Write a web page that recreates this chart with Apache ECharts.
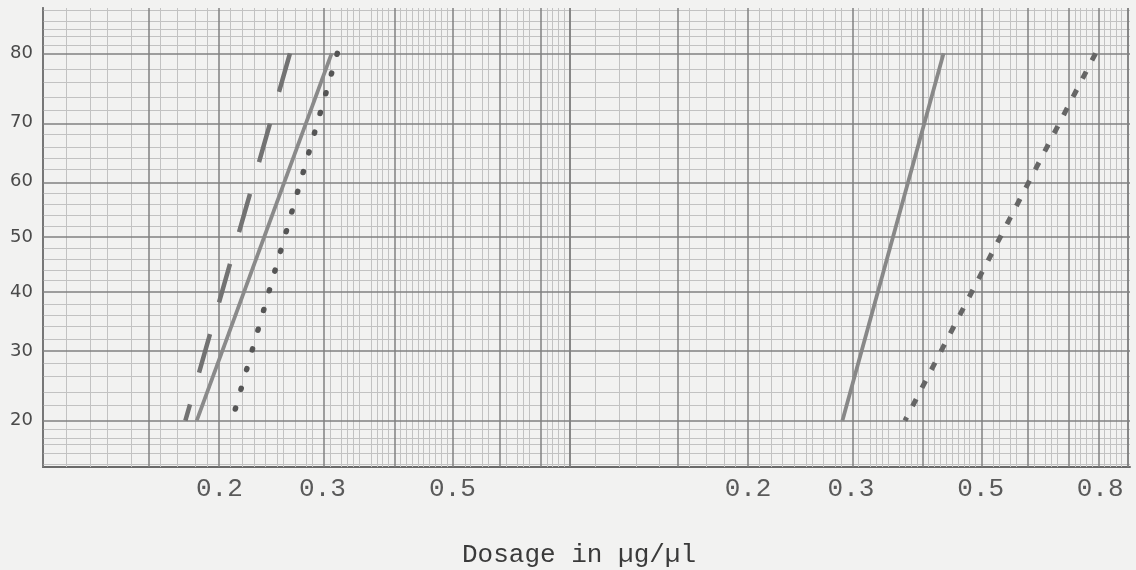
<!DOCTYPE html>
<html>
<head>
<meta charset="utf-8">
<title>Dosage in µg/µl</title>
<script src="https://cdn.jsdelivr.net/npm/echarts@6/dist/echarts.min.js"></script>
<style>
  html, body { margin: 0; padding: 0; background: #f2f2f1; }
  #chart { width: 1136px; height: 570px; }
</style>
</head>
<body>
<div id="chart"></div>
<script>
// Response (%) plotted against dose on log-probability paper, two log cycles side by side.

// Tick labels
const yTickPct = [20, 30, 40, 50, 60, 70, 80];
const leftTickDose = [0.2, 0.3, 0.5];
const rightTickDose = [0.2, 0.3, 0.5, 0.8];

// Paper extent
const yBottomPct = 14.6;
const yTopPct = 85.3;
const leftDoseRange = [0.1, 0.8];
const rightDoseRange = [0.1, 0.9];

// Paper rulings (log-cycle mantissas and percentages)
const paperMajorX = [1, 1.5, 2, 3, 4, 5, 6, 7, 8, 9];
const paperMinorX = [1.1, 1.2, 1.3, 1.4, 1.6, 1.7, 1.8, 1.9,
  2.1, 2.2, 2.3, 2.4, 2.5, 2.6, 2.7, 2.8, 2.9,
  3.1, 3.2, 3.3, 3.4, 3.5, 3.6, 3.7, 3.8, 3.9,
  4.1, 4.2, 4.3, 4.4, 4.5, 4.6, 4.7, 4.8, 4.9,
  5.2, 5.4, 5.6, 5.8, 6.2, 6.4, 6.6, 6.8,
  7.2, 7.4, 7.6, 7.8, 8.2, 8.4, 8.6, 8.8];
const paperMajorY = [20, 30, 40, 50, 60, 70, 80];
const paperMinorY = [15, 16, 17, 18, 19, 22, 24, 26, 28, 32, 34, 36, 38,
  42, 44, 46, 48, 52, 54, 56, 58, 62, 64, 66, 68, 72, 74, 76, 78, 81, 82, 83, 84, 85];

// Dose-response lines (dose in µg/µl, response in %), listed top end first
const leftDashedDose = [0.264, 0.175];
const leftDashedPct = [80, 20];
const leftSolidDose = [0.311, 0.183];
const leftSolidPct = [80, 20];
const leftDottedDose = [0.318, 0.212];
const leftDottedPct = [80, 21];
const rightSolidDose = [0.432, 0.290];
const rightSolidPct = [80, 20];
const rightDottedDose = [0.786, 0.371];
const rightDottedPct = [80, 20];

// Inverse normal CDF (Acklam) for the probability axis
function probit(p) {
  const a = [-3.969683028665376e+01, 2.209460984245205e+02, -2.759285104469687e+02,
             1.383577518672690e+02, -3.066479806614716e+01, 2.506628277459239e+00];
  const b = [-5.447609879822406e+01, 1.615858368580409e+02, -1.556989798598866e+02,
             6.680131188771972e+01, -1.328068155288572e+01];
  const c = [-7.784894002430293e-03, -3.223964580411365e-01, -2.400758277161838e+00,
             -2.549732539343734e+00, 4.374664141464968e+00, 2.938163982698783e+00];
  const d = [7.784695709041462e-03, 3.224671290700398e-01, 2.445134137142996e+00,
             3.754408661907416e+00];
  const pl = 0.02425;
  if (p < pl) {
    const q = Math.sqrt(-2 * Math.log(p));
    return (((((c[0]*q+c[1])*q+c[2])*q+c[3])*q+c[4])*q+c[5]) / ((((d[0]*q+d[1])*q+d[2])*q+d[3])*q+1);
  }
  if (p <= 1 - pl) {
    const q = p - 0.5, r = q * q;
    return (((((a[0]*r+a[1])*r+a[2])*r+a[3])*r+a[4])*r+a[5])*q / (((((b[0]*r+b[1])*r+b[2])*r+b[3])*r+b[4])*r+1);
  }
  const q = Math.sqrt(-2 * Math.log(1 - p));
  return -(((((c[0]*q+c[1])*q+c[2])*q+c[3])*q+c[4])*q+c[5]) / ((((d[0]*q+d[1])*q+d[2])*q+d[3])*q+1);
}
const py = pct => probit(pct / 100);
const lx = dose => Math.log10(dose);

const yMin = py(yBottomPct);
const yMax = py(yTopPct);

const majorStyle = { color: '#808080', width: 1.5, type: 'solid' };
const minorStyle = { color: '#c2c2c2', width: 1, type: 'solid' };

function paperLines(doseRange, withLeftEdge) {
  const inRange = m => m / 10 >= doseRange[0] - 1e-9 && m / 10 <= doseRange[1] + 1e-9;
  const items = [];
  paperMinorY.forEach(p => items.push({ yAxis: py(p), lineStyle: minorStyle }));
  paperMinorX.filter(inRange).forEach(m => items.push({ xAxis: lx(m / 10), lineStyle: minorStyle }));
  paperMajorY.forEach(p => items.push({ yAxis: py(p), lineStyle: majorStyle }));
  paperMajorX.filter(inRange)
    .filter(m => withLeftEdge || m / 10 > doseRange[0] + 1e-9)
    .forEach(m => items.push({ xAxis: lx(m / 10), lineStyle: majorStyle }));
  items.push({ xAxis: lx(doseRange[1]), lineStyle: majorStyle });
  items.push({ yAxis: yMax, lineStyle: { color: '#8c8c8c', width: 1.4, type: 'solid' } });
  return items;
}

function paperSeries(idx, doseRange, withLeftEdge) {
  return {
    type: 'line', xAxisIndex: idx, yAxisIndex: idx, data: [], z: 1, silent: true,
    markLine: {
      silent: true, symbol: 'none', animation: false,
      label: { show: false }, emphasis: { disabled: true },
      lineStyle: { type: 'solid' },
      data: paperLines(doseRange, withLeftEdge)
    }
  };
}

function doseLine(idx, doses, pcts, style) {
  return {
    type: 'line', xAxisIndex: idx, yAxisIndex: idx, z: 5,
    showSymbol: false, symbol: 'none', silent: true, animation: false,
    data: doses.map((dv, i) => [lx(dv), py(pcts[i])]),
    lineStyle: style
  };
}

function xAxisFor(idx, doseRange, ticks) {
  return {
    type: 'value', gridIndex: idx,
    min: lx(doseRange[0]), max: lx(doseRange[1]),
    axisLine: { show: true, onZero: false, lineStyle: { color: '#6a6a6a', width: 2 } },
    axisTick: { show: false },
    splitLine: { show: false },
    axisLabel: {
      customValues: ticks.map(lx),
      formatter: v => Math.pow(10, v).toFixed(1),
      fontFamily: 'Liberation Mono', fontSize: 26, color: '#5a5a5a', margin: 9
    }
  };
}

function yAxisFor(idx, visible) {
  return {
    type: 'value', gridIndex: idx, min: yMin, max: yMax,
    axisLine: { show: visible, onZero: false, lineStyle: { color: '#5c5c5c', width: 2 } },
    axisTick: { show: false },
    splitLine: { show: false },
    axisLabel: {
      show: visible,
      customValues: yTickPct.map(py),
      formatter: v => {
        const hit = yTickPct.find(p => Math.abs(py(p) - v) < 1e-7);
        return hit === undefined ? '' : String(hit);
      },
      fontFamily: 'DejaVu Sans', fontSize: 18, color: '#4a4a4a', margin: 10
    }
  };
}

const chart = echarts.init(document.getElementById('chart'), null, { renderer: 'canvas' });
chart.setOption({
  backgroundColor: '#f2f2f1',
  animation: false,
  title: {
    text: 'Dosage in µg/µl',
    left: 457, top: 537,
    textStyle: { fontFamily: 'Liberation Mono', fontSize: 26, fontWeight: 'normal', color: '#3a3a3a' }
  },
  grid: [
    { left: 43, top: 8, width: 529, height: 459 },
    { left: 572, top: 8, width: 558, height: 459 }
  ],
  xAxis: [xAxisFor(0, leftDoseRange, leftTickDose), xAxisFor(1, rightDoseRange, rightTickDose)],
  yAxis: [yAxisFor(0, true), yAxisFor(1, false)],
  series: [
    paperSeries(0, leftDoseRange, true),
    paperSeries(1, rightDoseRange, false),
    doseLine(0, leftDashedDose, leftDashedPct, { color: '#727272', width: 4.5, type: [40, 33] }),
    doseLine(0, leftSolidDose, leftSolidPct, { color: '#8a8a8a', width: 3.8 }),
    doseLine(0, leftDottedDose, leftDottedPct, { color: '#555', width: 5.5, type: [1, 19.5], cap: 'round' }),
    doseLine(1, rightSolidDose, rightSolidPct, { color: '#888', width: 3.8 }),
    doseLine(1, rightDottedDose, rightDottedPct, { color: '#666', width: 5, type: [8, 12.5] })
  ]
});
</script>
</body>
</html>
